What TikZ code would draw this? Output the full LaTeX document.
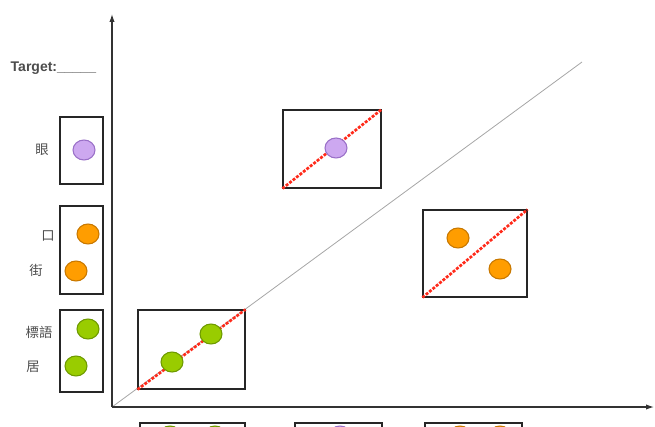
\documentclass[tikz,border=0pt]{standalone}
\usepackage{fontspec}
\setmainfont{Liberation Sans}
\newfontfamily\cjk{Noto Sans CJK SC}
\usetikzlibrary{arrows.meta, shapes.geometric, positioning}

\definecolor{violetfill}{HTML}{CDA8F0}
\definecolor{violetline}{HTML}{9A70C8}
\definecolor{orangefill}{HTML}{FF9D00}
\definecolor{orangeline}{HTML}{C87800}
\definecolor{greenfill}{HTML}{99CC00}
\definecolor{greenline}{HTML}{6E9A00}
\definecolor{fitred}{HTML}{FF2A1A}

\newdimen\px
\px=0.75pt

\tikzset{
  panel/.style={draw=black!85, line width=0.8pt, inner sep=0pt},
  dot/.style={ellipse, line width=0.8pt, minimum width=22\px, minimum height=20\px, inner sep=0pt},
  violetdot/.style={dot, fill=violetfill, draw=violetline},
  orangedot/.style={dot, fill=orangefill, draw=orangeline},
  greendot/.style={dot, fill=greenfill, draw=greenline},
  fitline/.style={fitred, line width=2pt, dash pattern=on 2.2pt off 1.1pt},
  axis/.style={black!80, line width=0.9pt, -{Latex[length=6pt,width=4pt]}},
  lbl/.style={font=\cjk, text=black!70, inner sep=0pt}
}

\begin{document}
\begin{tikzpicture}[x=0.75pt, y=-0.75pt]
  \useasboundingbox (0,0) rectangle (655,427);
  \clip (0,0) rectangle (655,427);

  % Axes
  \coordinate (origin) at (112,407);
  \coordinate (ytip) at (112,14);
  \coordinate (xtip) at (654,407);
  \coordinate (diagEnd) at (582,62);
  \draw[gray!70, line width=0.6pt] (origin) -- (diagEnd);
  \draw[axis] (origin) -- (ytip);
  \draw[axis] (origin) -- (xtip);

  \node[anchor=west, font=\fontsize{10.5}{12}\selectfont\bfseries, text=black!70] (target) at (6,68) {Target:\_\_\_\_\_};

  % Left legend boxes
  \node[panel, minimum width=43\px, minimum height=67\px] (legA) at (81.5,150.5) {};
  \node[panel, minimum width=43\px, minimum height=88\px] (legB) at (81.5,250) {};
  \node[panel, minimum width=43\px, minimum height=82\px] (legC) at (81.5,351) {};

  \node[violetdot] (legA1) at (84,150) {};
  \node[orangedot] (legB1) at (88,234) {};
  \node[orangedot] (legB2) at (76,271) {};
  \node[greendot] (legC1) at (88,329) {};
  \node[greendot] (legC2) at (76,366) {};

  \node[lbl] (labA1) at (42,150) {眼};
  \node[lbl] (labB1) at (48,236) {口};
  \node[lbl] (labB2) at (36,270) {街};
  \node[lbl] (labC1) at (39,332) {標語};
  \node[lbl] (labC2) at (33,367) {居};

  % Panels on the plane
  \node[panel, minimum width=98\px, minimum height=78\px] (pViolet) at (332,149) {};
  \draw[fitline] (pViolet.south west) -- (pViolet.north east);
  \node[violetdot] (pViolet1) at (336,148) {};

  \node[panel, minimum width=104\px, minimum height=87\px] (pOrange) at (475,253.5) {};
  \draw[fitline] (pOrange.south west) -- (pOrange.north east);
  \node[orangedot] (pOrange1) at (458,238) {};
  \node[orangedot] (pOrange2) at (500,269) {};

  \node[panel, minimum width=107\px, minimum height=79\px] (pGreen) at (191.5,349.5) {};
  \draw[fitline] (pGreen.south west) -- (pGreen.north east);
  \node[greendot] (pGreen1) at (172,362) {};
  \node[greendot] (pGreen2) at (211,334) {};

  % Boxes under the axis
  \node[panel, minimum width=105\px, minimum height=74\px] (bGreen) at (192.5,460) {};
  \node[greendot] (bGreen1) at (170,436) {};
  \node[greendot] (bGreen2) at (215,436) {};
  \node[panel, minimum width=87\px, minimum height=74\px] (bViolet) at (338.5,460) {};
  \node[violetdot] (bViolet1) at (340,436) {};
  \node[panel, minimum width=97\px, minimum height=74\px] (bOrange) at (473.5,460) {};
  \node[orangedot] (bOrange1) at (460,436) {};
  \node[orangedot] (bOrange2) at (500,436) {};
\end{tikzpicture}
\end{document}
